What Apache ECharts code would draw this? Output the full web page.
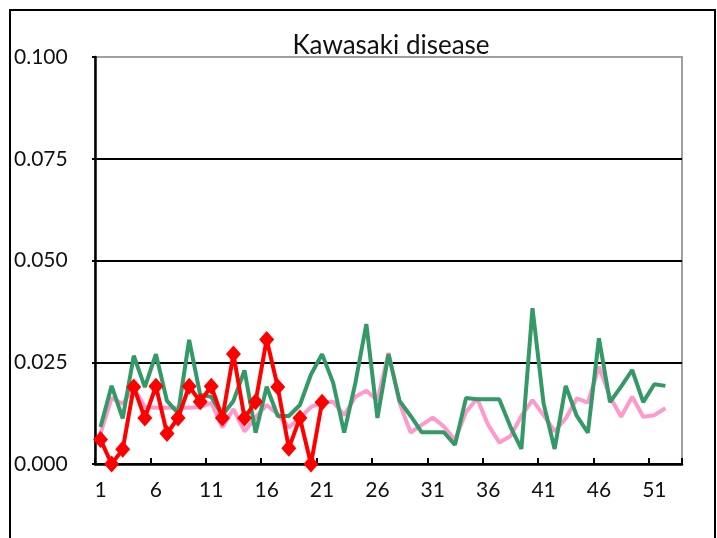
<!DOCTYPE html>
<html>
<head>
<meta charset="utf-8">
<script src="https://cdn.jsdelivr.net/npm/echarts@6/dist/echarts.min.js"></script>
<style>html,body{margin:0;padding:0;background:#fff}#c{width:717px;height:538px}</style>
</head>
<body>
<div id="c"></div>
<script>
const title = 'Kawasaki disease';
const weeks = ['1','2','3','4','5','6','7','8','9','10','11','12','13','14','15','16','17','18','19','20','21','22','23','24','25','26','27','28','29','30','31','32','33','34','35','36','37','38','39','40','41','42','43','44','45','46','47','48','49','50','51','52','53'];
const pinkSeries = [0.0075,0.0162,0.0148,0.0188,0.0140,0.0138,0.0138,0.0138,0.0138,0.0140,0.0150,0.0090,0.0135,0.0080,0.0115,0.0145,0.0122,0.0090,0.0113,0.0140,0.0152,0.0153,0.0120,0.0165,0.0180,0.0157,0.0273,0.0150,0.0077,0.0096,0.0114,0.0092,0.0059,0.0128,0.0161,0.0096,0.0053,0.0068,0.0118,0.0157,0.0120,0.0080,0.0112,0.0161,0.0151,0.0239,0.0165,0.0116,0.0165,0.0116,0.0120,0.0137];
const greenSeries = [0.0091,0.0192,0.0112,0.0266,0.0189,0.0270,0.0155,0.0125,0.0305,0.0170,0.0165,0.0120,0.0155,0.0230,0.0077,0.0190,0.0118,0.0118,0.0145,0.0220,0.0270,0.0200,0.0077,0.0198,0.0344,0.0113,0.0270,0.0155,0.0118,0.0078,0.0078,0.0078,0.0047,0.0162,0.0159,0.0159,0.0159,0.0092,0.0037,0.0383,0.0149,0.0037,0.0192,0.0118,0.0077,0.0309,0.0152,0.0190,0.0231,0.0152,0.0196,0.0192];
const redSeries = [0.0060,0.0000,0.0036,0.0189,0.0113,0.0191,0.0075,0.0113,0.0191,0.0153,0.0191,0.0113,0.0270,0.0113,0.0153,0.0306,0.0189,0.0039,0.0113,0.0000,0.0152];
const yTicks = [0, 0.025, 0.05, 0.075, 0.1];

const FONT = 'Lato';
const chart = echarts.init(document.getElementById('c'), null, {renderer: 'canvas'});
chart.setOption({
  animation: false,
  backgroundColor: '#fff',
  title: {
    text: title, left: 386, top: 28, textAlign: 'center',
    textStyle: {fontFamily: FONT, fontSize: 26, fontWeight: 'normal', color: '#111'}
  },
  graphic: [{
    type: 'rect', shape: {x: 10, y: 10, width: 705, height: 540},
    style: {fill: 'none', stroke: '#000', lineWidth: 2}, silent: true
  }],
  grid: {left: 95, right: 35, top: 57, bottom: 74, show: true, borderColor: '#a0a0a0', borderWidth: 2, backgroundColor: 'transparent'},
  xAxis: {
    type: 'category', data: weeks, boundaryGap: true,
    axisLine: {lineStyle: {color: '#000', width: 2.5}},
    axisTick: {show: true, inside: true, length: 6, interval: 4, lineStyle: {color: '#000', width: 2}},
    axisLabel: {interval: 4, margin: 16, fontFamily: FONT, fontSize: 21, color: '#111'},
    splitLine: {show: false}
  },
  yAxis: {
    type: 'value', min: yTicks[0], max: yTicks[yTicks.length - 1], interval: 0.025,
    axisLine: {show: true, lineStyle: {color: '#000', width: 2.5}},
    axisTick: {show: true, length: 3, lineStyle: {color: '#000', width: 2}},
    axisLabel: {align: 'left', margin: 81, fontFamily: FONT, fontSize: 21, color: '#111',
      formatter: v => v.toFixed(3)},
    splitLine: {show: true, lineStyle: {color: ['#000', '#000', '#000', '#000', '#a0a0a0'], width: 2}}
  },
  series: [
    {type: 'line', data: pinkSeries, symbol: 'none', clip: false, z: 2,
      lineStyle: {color: '#FF99CC', width: 4}},
    {type: 'line', data: greenSeries, symbol: 'none', clip: false, z: 3,
      lineStyle: {color: '#339966', width: 4}},
    {type: 'line', data: redSeries, symbol: 'diamond', symbolSize: [15, 17], showAllSymbol: true, clip: false, z: 4,
      itemStyle: {color: '#FF0000'}, lineStyle: {color: '#FF0000', width: 4}}
  ]
});
</script>
</body>
</html>
